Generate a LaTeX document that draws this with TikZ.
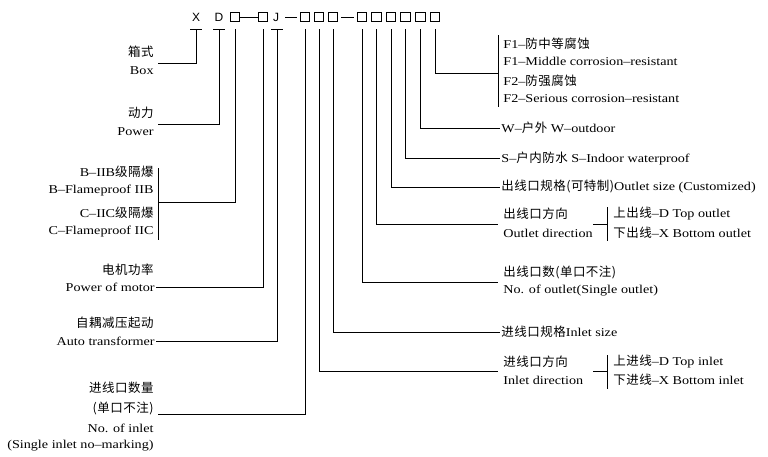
\documentclass[tikz,border=0pt]{standalone}
\usepackage{fontspec}
\setmainfont{Liberation Serif}[FakeStretch=1.18]
\newfontfamily\cjk{Noto Sans CJK SC}[Scale=1.04,LetterSpace=4]
\newfontfamily\hdr{Liberation Sans}
\newcommand{\zh}[1]{{\cjk #1}}
\begin{document}
\begin{tikzpicture}[x=1pt,y=-1pt,line width=.8pt,
  lbl/.style={inner sep=1pt,font=\fontsize{12}{12}\selectfont},
  lft/.style={lbl,anchor=east},
  rgt/.style={lbl,anchor=west},
  sq/.style={draw,minimum size=9.5pt,inner sep=0pt},
  ch/.style={inner sep=0pt,font=\hdr\fontsize{12}{12}\selectfont}]
\useasboundingbox (0,0) rectangle (768,456);
% code head
\node[ch] (hX) at (196,17) {X};
\node[ch] (hD) at (219,17) {D};
\node[sq] (b1) at (235,17) {};
\node[sq] (b2) at (263,17) {};
\node[ch] (hJ) at (276,17) {J};
\foreach \n/\x in {3/305,4/319,5/333,6/362,7/376.5,8/391,9/405.5,10/420.5,11/435}
  \node[sq] (b\n) at (\x,17) {};
\draw (b1.east)--(b2.west);
\draw ([xshift=6pt]hJ.east)--([xshift=-3pt]b3.west);
\draw ([xshift=3pt]b5.east)--([xshift=-3pt]b6.west);
% legs
\foreach \n/\x in {1/196,2/219,3/235,4/263,5/277,6/305,7/319,8/333,9/362,10/376.5,11/391,12/405.5,13/420.5,14/435}
  \coordinate (t\n) at (\x,29);
\foreach \n in {1,2,5}
  \draw ([xshift=-6pt]t\n)--([xshift=6pt]t\n);
% left labels
\node[lft] (box1) at (155,52) {\zh{箱式}};
\node[lft] (box2) at (155,71) {Box};
\node[lft] (pw1) at (155,113) {\zh{动力}};
\node[lft] (pw2) at (155,132) {Power};
\node[lft] (bc1) at (155,172) {B--IIB\zh{级隔爆}};
\node[lft] (bc2) at (155,191) {B--Flameproof IIB};
\node[lft] (bc3) at (155,213) {C--IIC\zh{级隔爆}};
\node[lft] (bc4) at (155,232) {C--Flameproof IIC};
\node[lft] (mo1) at (155,270) {\zh{电机功率}};
\node[lft] (mo2) at (156,287) {Power of motor};
\node[lft] (at1) at (155,323) {\zh{自耦减压起动}};
\node[lft] (at2) at (156,341) {Auto transformer};
\node[lft] (in1) at (155,388) {\zh{进线口数量}};
\node[lft] (in2) at (155,408) {\zh{(单口不注)}};
\node[lft] (in3) at (155,428) {No. of inlet};
\node[lft] (in4) at (155,446) {(Single inlet no--marking)};
\coordinate (eBox) at (158,63);
\coordinate (ePw) at (158,124);
\coordinate (eBC) at (158,202);
\coordinate (eIn) at (158,414);
\draw (158,168)--(158,240);
\draw (t1) |- (eBox);
\draw (t2) |- (ePw);
\draw (t3) |- (eBC);
\draw (t4) |- (mo2.east);
\draw (t5) |- (at2.east);
\draw (t6) |- (eIn);
% right labels
\node[rgt] (f1) at (502,44) {F1--\zh{防中等腐蚀}};
\node[rgt] (f2) at (502,61) {F1--Middle corrosion--resistant};
\node[rgt] (f3) at (502,81) {F2--\zh{防强腐蚀}};
\node[rgt] (f4) at (502,99) {F2--Serious corrosion--resistant};
\node[rgt] (w) at (500,128) {W--\zh{户外} W--outdoor};
\node[rgt] (s) at (500,158) {S--\zh{户内防水} S--Indoor waterproof};
\node[rgt] (os) at (500,187) {\zh{出线口规格(可特制)}Outlet size (Customized)};
\node[rgt] (od1) at (502,214) {\zh{出线口方向}};
\node[rgt] (od2) at (502,233) {Outlet direction};
\node[rgt] (od3) at (612,214) {\zh{上出线}--D Top outlet};
\node[rgt] (od4) at (612,233) {\zh{下出线}--X Bottom outlet};
\node[rgt] (on1) at (502,272) {\zh{出线口数(单口不注)}};
\node[rgt] (on2) at (502,291) {No. of outlet(Single outlet)};
\node[rgt] (is) at (500,332) {\zh{进线口规格}Inlet size};
\node[rgt] (id1) at (502,362) {\zh{进线口方向}};
\node[rgt] (id2) at (502,380) {Inlet direction};
\node[rgt] (id3) at (612,362) {\zh{上进线}--D Top inlet};
\node[rgt] (id4) at (612,380) {\zh{下进线}--X Bottom inlet};
\coordinate (eF) at (498,73);
\coordinate (eOd) at (498,224);
\coordinate (eOn) at (498,282);
\coordinate (eId) at (498,371);
\draw (498,35)--(498,107);
\draw (t14) |- (eF);
\draw (t13) |- (w.west);
\draw (t12) |- (s.west);
\draw (t11) |- (os.west);
\draw (t10) |- (eOd);
\draw (t9) |- (eOn);
\draw (t8) |- (is.west);
\draw (t7) |- (eId);
% direction brackets
\draw (593,224)--(607,224) (607,207)--(607,241);
\draw (593,371)--(607,371) (607,355)--(607,389);
\end{tikzpicture}
\end{document}
